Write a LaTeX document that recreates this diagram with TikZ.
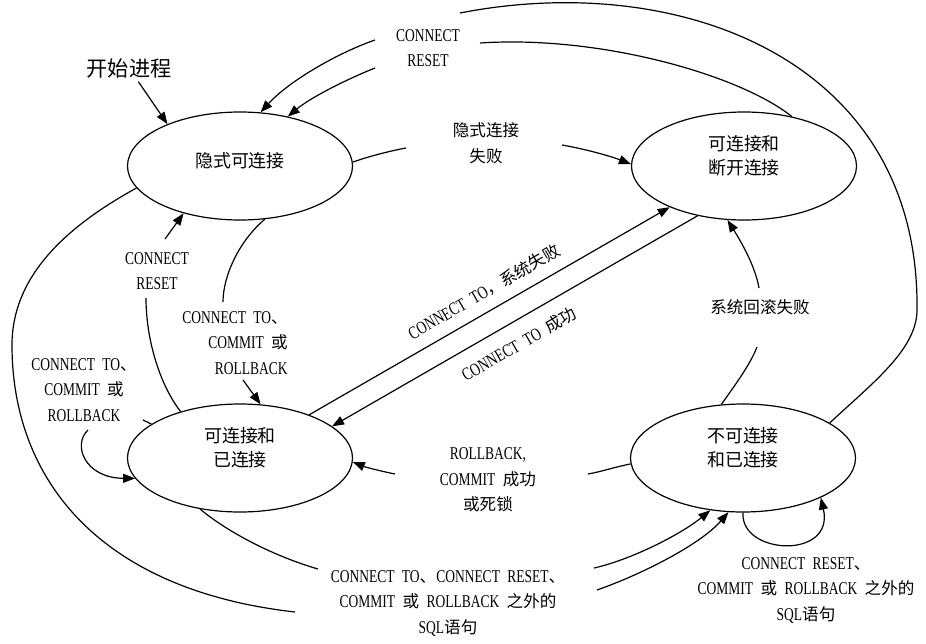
\documentclass[tikz,border=0pt]{standalone}
\usepackage{fontspec}
\setmainfont{Liberation Serif}[FakeStretch=0.75,WordSpace=2.2]
\newfontfamily\hz{Noto Sans CJK SC}[Scale=0.92]
\usetikzlibrary{arrows.meta,shapes.geometric}
\begin{document}
\begin{tikzpicture}[x=1pt,y=-1pt,line width=1.2pt,>={Triangle[length=12pt,width=9pt]},
 zt/.style={draw,ellipse,minimum width=225pt,minimum height=108pt,inner sep=0pt,text depth=22pt,align=center,font=\fontsize{19.5}{24}\selectfont\hz},
 lb/.style={align=center,inner sep=1pt,font=\fontsize{18}{25.5}\selectfont},
 lbz/.style={lb,font=\fontsize{18}{25.5}\selectfont\hz}]
\useasboundingbox (0,0) rectangle (926,643);
% states
\node[zt,text depth=13pt](sA) at (240,166){隐式可连接};
\node[zt](sB) at (744,166){可连接和\\断开连接};
\node[zt](sC) at (240,458){可连接和\\已连接};
\node[zt](sD) at (743,458){不可连接\\和已连接};
% labels
\node[font=\fontsize{23}{26}\selectfont\hz](start) at (129,68){开始进程};
\node[lb](rst) at (428,48){CONNECT\\RESET};
\node[lbz](fail) at (486,143){隐式连接\\失败};
\node[lb](rstA) at (157,271){CONNECT\\RESET};
\node[lb,align=right](ctA) at (235,343){CONNECT TO{\hz 、}\\COMMIT {\hz 或}\\ROLLBACK};
\node[lb](ctL) at (84,390){CONNECT TO{\hz 、}\\COMMIT {\hz 或}\\ROLLBACK};
\node[lb,rotate=30](lfail) at (484,292){CONNECT TO{\hz ，系统失败}};
\node[lb,rotate=30](lsucc) at (519,344){CONNECT TO {\hz 成功}};
\node[lbz](rbf) at (760,307){系统回滚失败};
\node[lb](rbc) at (488,480){ROLLBACK,\\COMMIT {\hz 成功}\\{\hz 或死锁}};
\node[lb](sqlC) at (448,603){CONNECT TO{\hz 、}CONNECT RESET{\hz 、}\\COMMIT {\hz 或} ROLLBACK {\hz 之外的}\\SQL{\hz 语句}};
\node[lb](sqlD) at (806,590){CONNECT RESET{\hz 、}\\COMMIT {\hz 或} ROLLBACK {\hz 之外的}\\SQL{\hz 语句}};
% free ends beside the labels
\foreach \cn/\cx/\cy in {o1/460/13,o2/375/40,i1/480/43,i2/375/68,f1/406/148,f2/562/145,m1/223/302,m2/243/380,
  r1/146/298,r2/165/239,l1/143/420,l2/88/430,b1/757/347,b2/759/288,d1/588/474,d2/395/474,
  s1/318/569,s2/594/568,s3/295/612,s4/597/590}{\coordinate(\cn) at (\cx,\cy);}
% transitions
\draw[->](start)--(sA.150);
\draw(sD.22) .. controls (870,385) and (917,350) .. (917,310) .. controls (920,60) and (680,-30) .. (o1);
\draw[->](o2) .. controls (340,52) and (290,80) .. (sA.69);
\draw(sB.46) .. controls (740,75) and (600,35) .. (i1);
\draw[->](i2) .. controls (345,80) and (310,98) .. (sA.46);
\draw(sA.2) .. controls (370,156) and (390,151) .. (f1);
\draw[->](f2) .. controls (585,149) and (610,156) .. (sB.179);
\draw(sA.-65) .. controls (240,240) and (223,275) .. (m1);
\draw[->](m2)--(sC.69);
\draw(sC.142) .. controls (160,385) and (146,340) .. (r1);
\draw[->](r2)--(sA.-140);
\draw(sC.159)--(l1);
\draw[->](l2) .. controls (72,445) and (85,478) .. (sC.-169);
\draw[->](sC.32)--(sB.-151);
\draw[->](sB.-133)--(sC.19);
\draw(sD.112) .. controls (735,385) and (750,365) .. (b1);
\draw[->](b2) .. controls (755,265) and (740,240) .. (sB.-107);
\draw(sD.-177) .. controls (615,467) and (600,472) .. (d1);
\draw[->](d2) .. controls (380,471) and (365,467) .. (sC.-2);
\draw(sC.-128) .. controls (225,530) and (270,555) .. (s1);
\draw[->](s2) .. controls (630,560) and (680,535) .. (sD.-122);
\draw(sA.-168) .. controls (60,230) and (12,280) .. (12,345) .. controls (12,480) and (100,590) .. (s3);
\draw[->](s4) .. controls (640,575) and (700,545) .. (sD.-105);
\draw[->](sD.-90) .. controls (740,555) and (835,560) .. (sD.-27);
\end{tikzpicture}
\end{document}
